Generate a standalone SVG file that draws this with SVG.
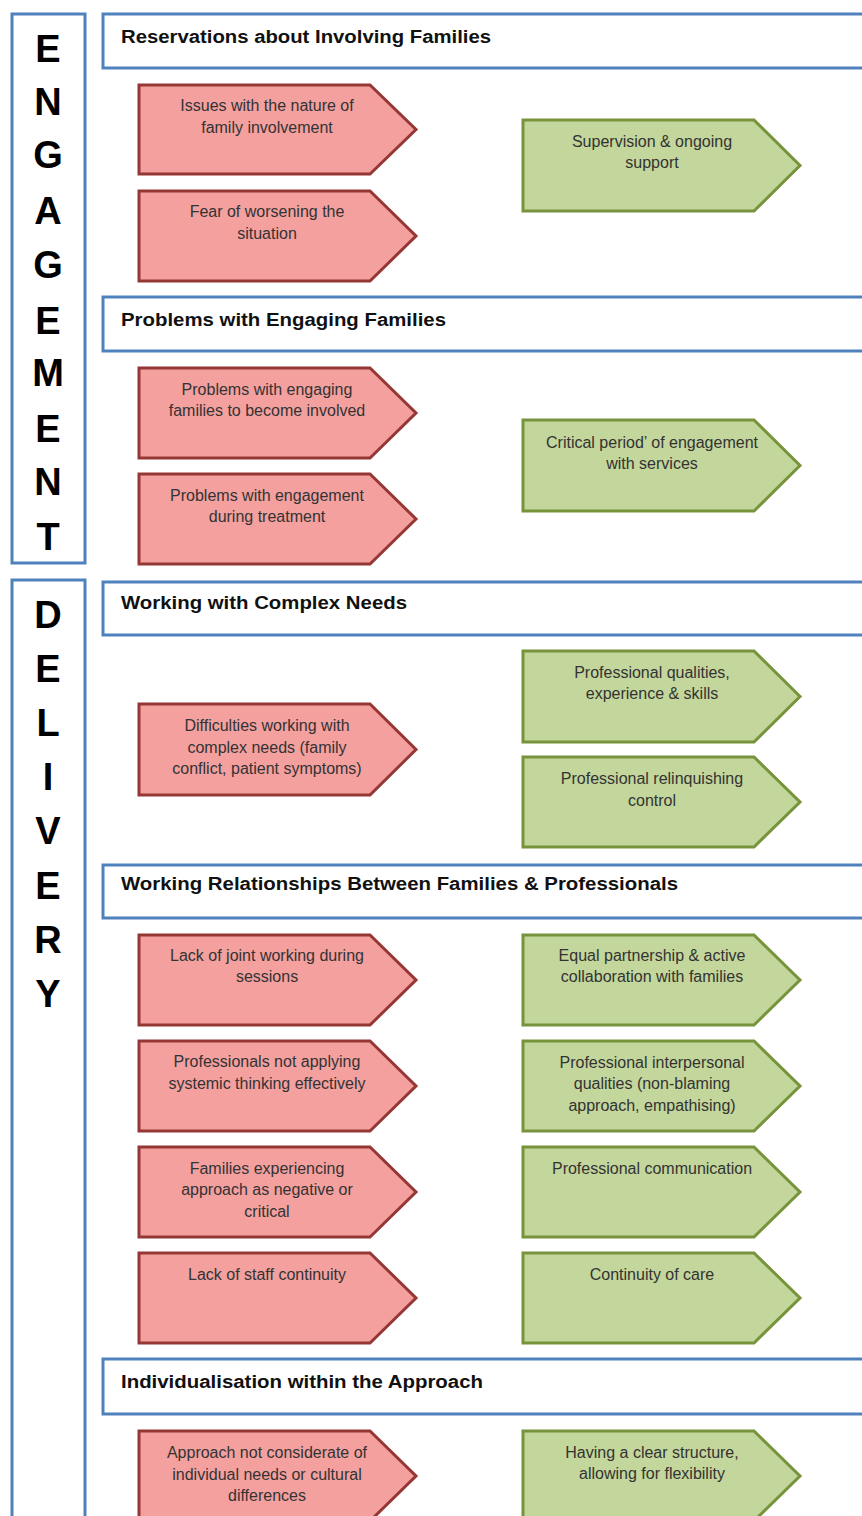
<svg xmlns="http://www.w3.org/2000/svg" width="862" height="1516" viewBox="0 0 862 1516">
<style>
.side{fill:#fff;stroke:#4f81bd;stroke-width:3}
.hdr{fill:#fff;stroke:#4f81bd;stroke-width:3}
.ht{font-family:"Liberation Sans",Arial,sans-serif;font-weight:bold;font-size:17.5px;fill:#111}
.big{font-family:"Liberation Sans",Arial,sans-serif;font-weight:bold;font-size:38px;fill:#000;text-anchor:middle}
.red{fill:#f4a09f;stroke:#953735;stroke-width:3}
.grn{fill:#c3d69b;stroke:#77933c;stroke-width:3}
.t{font-family:"Liberation Sans",Arial,sans-serif;font-size:16px;fill:#333;text-anchor:middle}
</style>
<rect width="862" height="1516" fill="#fff"/>
<g id="engagement">
<rect class="side" x="12" y="14" width="73" height="549"/>
<text class="big" x="48" y="62">E</text>
<text class="big" x="48" y="115">N</text>
<text class="big" x="48" y="168">G</text>
<text class="big" x="48" y="224">A</text>
<text class="big" x="48" y="278">G</text>
<text class="big" x="48" y="334">E</text>
<text class="big" x="48" y="386">M</text>
<text class="big" x="48" y="442">E</text>
<text class="big" x="48" y="495">N</text>
<text class="big" x="48" y="550">T</text>
</g>
<g id="delivery">
<rect class="side" x="12" y="580" width="73" height="960"/>
<text class="big" x="48" y="628">D</text>
<text class="big" x="48" y="682">E</text>
<text class="big" x="48" y="736">L</text>
<text class="big" x="48" y="790">I</text>
<text class="big" x="48" y="844">V</text>
<text class="big" x="48" y="899">E</text>
<text class="big" x="48" y="953">R</text>
<text class="big" x="48" y="1007">Y</text>
</g>
<g id="h1"><rect class="hdr" x="103" y="14" width="780" height="54"/><text class="ht" x="121" y="43" textLength="370" lengthAdjust="spacingAndGlyphs">Reservations about Involving Families</text></g>
<g id="h2"><rect class="hdr" x="103" y="297" width="780" height="54"/><text class="ht" x="121" y="326" textLength="325" lengthAdjust="spacingAndGlyphs">Problems with Engaging Families</text></g>
<g id="h3"><rect class="hdr" x="103" y="582" width="780" height="53"/><text class="ht" x="121" y="609" textLength="286" lengthAdjust="spacingAndGlyphs">Working with Complex Needs</text></g>
<g id="h4"><rect class="hdr" x="103" y="865" width="780" height="53"/><text class="ht" x="121" y="890" textLength="557" lengthAdjust="spacingAndGlyphs">Working Relationships Between Families &amp; Professionals</text></g>
<g id="h5"><rect class="hdr" x="103" y="1359" width="780" height="55"/><text class="ht" x="121" y="1388" textLength="362" lengthAdjust="spacingAndGlyphs">Individualisation within the Approach</text></g>

<g id="r1"><polygon class="red" points="139,85 370,85 416,129.5 370,174 139,174"/><text class="t" x="267" y="111">Issues with the nature of</text><text class="t" x="267" y="133">family involvement</text></g>
<g id="r2"><polygon class="red" points="139,191 370,191 416,236 370,281 139,281"/><text class="t" x="267" y="217">Fear of worsening the</text><text class="t" x="267" y="239">situation</text></g>
<g id="g1"><polygon class="grn" points="523,120 754,120 800,165.5 754,211 523,211"/><text class="t" x="652" y="147">Supervision &amp; ongoing</text><text class="t" x="652" y="168">support</text></g>

<g id="r3"><polygon class="red" points="139,368 370,368 416,413 370,458 139,458"/><text class="t" x="267" y="395">Problems with engaging</text><text class="t" x="267" y="416">families to become involved</text></g>
<g id="r4"><polygon class="red" points="139,474 370,474 416,519 370,564 139,564"/><text class="t" x="267" y="501">Problems with engagement</text><text class="t" x="267" y="522">during treatment</text></g>
<g id="g2"><polygon class="grn" points="523,420 754,420 800,465.5 754,511 523,511"/><text class="t" x="652" y="448">Critical period’ of engagement</text><text class="t" x="652" y="469">with services</text></g>

<g id="r5"><polygon class="red" points="139,704 370,704 416,749.5 370,795 139,795"/><text class="t" x="267" y="731">Difficulties working with</text><text class="t" x="267" y="753">complex needs (family</text><text class="t" x="267" y="774">conflict, patient symptoms)</text></g>
<g id="g3"><polygon class="grn" points="523,651 754,651 800,696.5 754,742 523,742"/><text class="t" x="652" y="678">Professional qualities,</text><text class="t" x="652" y="699">experience &amp; skills</text></g>
<g id="g4"><polygon class="grn" points="523,757 754,757 800,802 754,847 523,847"/><text class="t" x="652" y="784">Professional relinquishing</text><text class="t" x="652" y="806">control</text></g>

<g id="r6"><polygon class="red" points="139,935 370,935 416,980 370,1025 139,1025"/><text class="t" x="267" y="961">Lack of joint working during</text><text class="t" x="267" y="982">sessions</text></g>
<g id="r7"><polygon class="red" points="139,1041 370,1041 416,1086 370,1131 139,1131"/><text class="t" x="267" y="1067">Professionals not applying</text><text class="t" x="267" y="1089">systemic thinking effectively</text></g>
<g id="r8"><polygon class="red" points="139,1147 370,1147 416,1192 370,1237 139,1237"/><text class="t" x="267" y="1174">Families experiencing</text><text class="t" x="267" y="1195">approach as negative or</text><text class="t" x="267" y="1217">critical</text></g>
<g id="r9"><polygon class="red" points="139,1253 370,1253 416,1298 370,1343 139,1343"/><text class="t" x="267" y="1280">Lack of staff continuity</text></g>
<g id="g5"><polygon class="grn" points="523,935 754,935 800,980 754,1025 523,1025"/><text class="t" x="652" y="961">Equal partnership &amp; active</text><text class="t" x="652" y="982">collaboration with families</text></g>
<g id="g6"><polygon class="grn" points="523,1041 754,1041 800,1086 754,1131 523,1131"/><text class="t" x="652" y="1068">Professional interpersonal</text><text class="t" x="652" y="1089">qualities (non-blaming</text><text class="t" x="652" y="1111">approach, empathising)</text></g>
<g id="g7"><polygon class="grn" points="523,1147 754,1147 800,1192 754,1237 523,1237"/><text class="t" x="652" y="1174">Professional communication</text></g>
<g id="g8"><polygon class="grn" points="523,1253 754,1253 800,1298 754,1343 523,1343"/><text class="t" x="652" y="1280">Continuity of care</text></g>

<g id="r10"><polygon class="red" points="139,1431 370,1431 416,1476 370,1521 139,1521"/><text class="t" x="267" y="1458">Approach not considerate of</text><text class="t" x="267" y="1480">individual needs or cultural</text><text class="t" x="267" y="1501">differences</text></g>
<g id="g9"><polygon class="grn" points="523,1431 754,1431 800,1476 754,1521 523,1521"/><text class="t" x="652" y="1458">Having a clear structure,</text><text class="t" x="652" y="1479">allowing for flexibility</text></g>
<g id="connectors"></g>
</svg>
